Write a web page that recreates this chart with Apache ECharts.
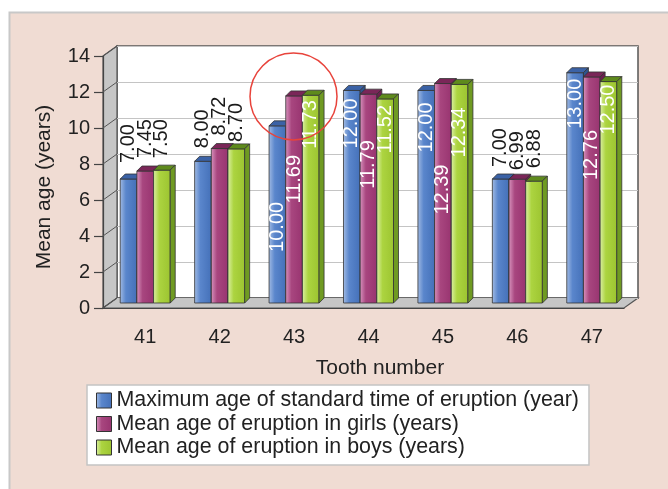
<!DOCTYPE html>
<html><head><meta charset="utf-8">
<script src="https://cdn.jsdelivr.net/npm/echarts@6/dist/echarts.min.js"></script>
<style>html,body{margin:0;padding:0;background:#fff}#c{width:668px;height:489px}</style>
</head><body><div id="c"></div>
<script>
// ---------- data ----------
const categories = ['41', '42', '43', '44', '45', '46', '47'];
const seriesNames = [
  'Maximum age of standard time of eruption (year)',
  'Mean age of eruption in girls (years)',
  'Mean age of eruption in boys (years)'
];
const maxStandard = [7.00, 8.00, 10.00, 12.00, 12.00, 7.00, 13.00];
const girlsMean   = [7.45, 8.72, 11.69, 11.79, 12.39, 6.99, 12.76];
const boysMean    = [7.50, 8.70, 11.73, 11.52, 12.34, 6.88, 12.50];
const yTicks = [0, 2, 4, 6, 8, 10, 12, 14];
const xTitle = 'Tooth number';
const yTitle = 'Mean age (years)';

// ---------- styling / layout ----------
const FONT = '"Liberation Sans", Arial, sans-serif';
const BAR_W = 16.67, DEP = 5;
// label offset from the bar's top edge (px): >0 inside (white), <0 above (black)
const labelOffsets = [
  [-16, -13, 76, 8, 12, -12, 6],
  [-13, -13, 59, 46, 81, -9, 53],
  [-12, -7, 5, 6, 23, -13, 3]
];
const palettes = [
  {front: ['#a3bce4', '#5a86cc', '#4470b8'], top: '#3b62a6', side: '#2f548f'},
  {front: ['#d995bf', '#a8467f', '#983470'], top: '#7a2658', side: '#6c1f4e'},
  {front: ['#dcf0a6', '#acd440', '#9cc430'], top: '#5e8a1c', side: '#6f9a22'}
];
const grad = (c) => ({type: 'linear', x: 0, y: 0, x2: 1, y2: 0, colorStops: [
  {offset: 0, color: c[0]}, {offset: 0.35, color: c[1]}, {offset: 1, color: c[2]}]});

function barRender(si) {
  return function (params, api) {
    const i = api.value(0), v = api.value(1);
    const top = api.coord([i, v]), base = api.coord([i, 0]);
    const x0 = top[0] + (si - 1.5) * BAR_W, x1 = x0 + BAR_W;
    const yT = top[1], yB = base[1];
    const p = palettes[si];
    const st = {stroke: '#333', lineWidth: 0.8};
    const off = labelOffsets[si][i];
    const inside = off > 0;
    return {type: 'group', children: [
      {type: 'rect', shape: {x: x0, y: yT, width: BAR_W, height: yB - yT},
        style: Object.assign({fill: grad(p.front)}, st)},
      {type: 'polygon', shape: {points: [[x0, yT], [x1, yT], [x1 + DEP, yT - DEP], [x0 + DEP, yT - DEP]]},
        style: Object.assign({fill: p.top}, st)},
      {type: 'polygon', shape: {points: [[x1, yT], [x1 + DEP, yT - DEP], [x1 + DEP, yB - DEP], [x1, yB]]},
        style: Object.assign({fill: p.side}, st)},
      {type: 'text', x: x0 + BAR_W / 2, y: yT + off, rotation: Math.PI / 2, z2: 100,
        style: {text: v.toFixed(2), fill: inside ? '#ffffff' : '#1a1a1a', font: '20px ' + FONT,
          align: inside ? 'right' : 'left', verticalAlign: 'middle'}}
    ]};
  };
}

const seriesData = [maxStandard, girlsMean, boysMean];
const series = seriesData.map((arr, si) => ({
  type: 'custom', name: seriesNames[si], xAxisIndex: 1, yAxisIndex: 1,
  renderItem: barRender(si), itemStyle: {color: palettes[si].front[1]},
  data: arr.map((v, i) => [i, v]), z: 3
}));
// wall diagonals at tick values
series.push({
  type: 'custom', xAxisIndex: 0, yAxisIndex: 0, silent: true, z: 1,
  data: yTicks.map(t => [0, t]),
  renderItem: function (params, api) {
    const y = api.coord([0, api.value(1)])[1];
    const x = params.coordSys.x;
    return {type: 'line', shape: {x1: x, y1: y, x2: x + 14, y2: y - 10}, style: {stroke: '#555', lineWidth: 1}};
  }
});

const chart = echarts.init(document.getElementById('c'), null, {renderer: 'canvas'});
const yBase = {type: 'value', min: 0, max: 14, interval: 2};
chart.setOption({
  animation: false,
  backgroundColor: '#ffffff',
  grid: [
    {left: 103, right: 44, top: 56, bottom: 181},
    {left: 108, right: 39, top: 55, bottom: 186},
    {left: 117, right: 30, top: 46, bottom: 191}
  ],
  xAxis: [
    {gridIndex: 0, type: 'category', data: categories, axisLabel: {show: false},
      axisLine: {lineStyle: {color: '#444', width: 1.2}}, axisTick: {length: 9, lineStyle: {color: '#444', width: 1.2}}},
    {gridIndex: 1, type: 'category', data: categories, axisLine: {show: false}, axisTick: {show: false},
      axisLabel: {margin: 24, fontSize: 20, fontFamily: FONT, color: '#222'}},
    {gridIndex: 2, type: 'category', data: categories, show: false}
  ],
  yAxis: [
    Object.assign({gridIndex: 0, axisLine: {show: true, lineStyle: {color: '#444', width: 1.2}},
      axisTick: {show: true, length: 9, lineStyle: {color: '#444', width: 1.2}},
      axisLabel: {margin: 13, fontSize: 20, fontFamily: FONT, color: '#222'}, splitLine: {show: false}}, yBase),
    Object.assign({gridIndex: 1, show: false}, yBase),
    Object.assign({gridIndex: 2, axisLine: {show: false}, axisTick: {show: false}, axisLabel: {show: false},
      splitLine: {show: true, lineStyle: {color: '#c4c4c4', width: 1.2}}}, yBase)
  ],
  legend: {
    orient: 'vertical', left: 87, top: 385, padding: [5, 10, 7, 9], itemGap: 2.5,
    itemWidth: 15, itemHeight: 15, backgroundColor: '#ffffff', borderColor: '#c4c4c4', borderWidth: 1.5,
    textStyle: {fontSize: 21.4, fontFamily: FONT, color: '#222', lineHeight: 21},
    selectedMode: false,
    data: seriesNames.map((n, si) => ({name: n, icon: 'rect',
      itemStyle: {color: grad(palettes[si].front), borderColor: '#333', borderWidth: 1}}))
  },
  graphic: [
    {type: 'rect', z: -20, shape: {x: 9.5, y: 12.5, width: 700, height: 500},
      style: {fill: '#f0dcd3', stroke: '#c8c8c8', lineWidth: 2}},
    {type: 'rect', z: -10, shape: {x: 117, y: 46, width: 521, height: 252},
      style: {fill: '#ffffff', stroke: '#555', lineWidth: 1.5}},
    {type: 'polygon', z: -9, shape: {points: [[103, 56], [117, 46], [117, 298], [103, 308]]},
      style: {fill: '#c6c6c6', stroke: '#555', lineWidth: 1.2}},
    {type: 'polygon', z: -9, shape: {points: [[103, 308], [624, 308], [638, 298], [117, 298]]},
      style: {fill: '#c6c6c6', stroke: '#555', lineWidth: 1.2}},
    {type: 'text', z: 10, x: 380, y: 368, style: {text: xTitle, font: '21px ' + FONT, fill: '#222',
      align: 'center', verticalAlign: 'middle'}},
    {type: 'text', z: 10, x: 44, y: 187, rotation: Math.PI / 2, style: {text: yTitle, font: '21px ' + FONT,
      fill: '#222', align: 'center', verticalAlign: 'middle'}},
    {type: 'circle', z: 20, shape: {cx: 293.5, cy: 96.5, r: 43.5},
      style: {fill: 'none', stroke: '#e8433b', lineWidth: 1.5}}
  ],
  series: series
});
</script></body></html>
